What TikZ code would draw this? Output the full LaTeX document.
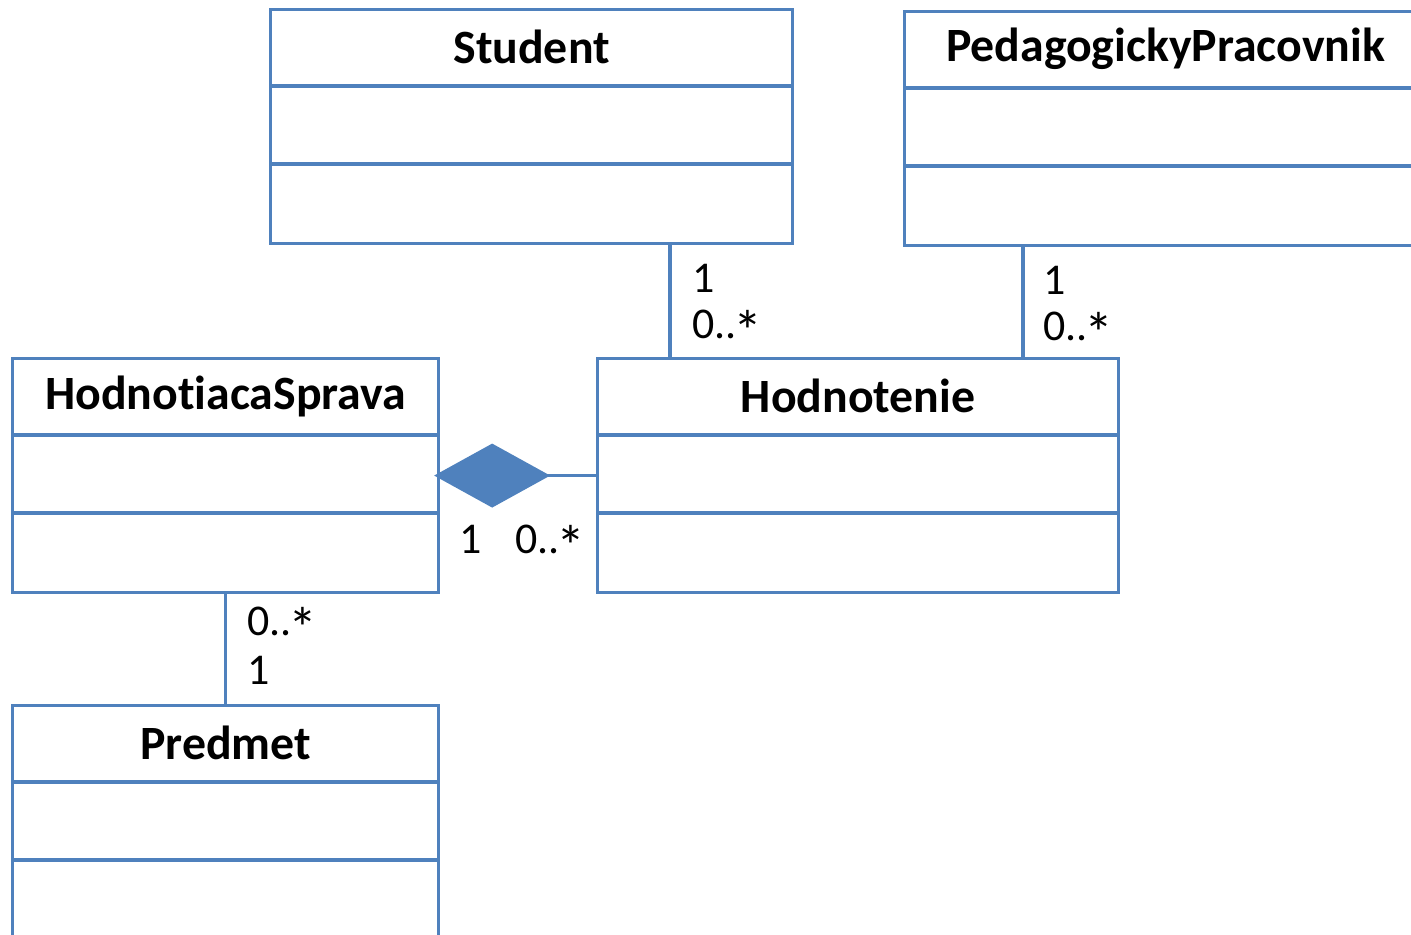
\documentclass[tikz,border=0pt]{standalone}
\usepackage{fontspec}
\setmainfont{Carlito}[Ligatures={NoCommon}]
\usetikzlibrary{arrows.meta,calc,positioning}
\definecolor{umlblue}{HTML}{4F81BD}

% class box: name, north west corner, width, title
\newcommand{\umlclass}[4]{%
  \node[cls=#3] (#1) at (#2) {};
  \node[clstitle] (#1-title) at ($(#1.north)+(0,-0.39)$) {#4};
  \draw[clsline] ($(#1.north west)+(0,-0.78)$) -- ($(#1.north east)+(0,-0.78)$);
  \draw[clsline] ($(#1.north west)+(0,-1.56)$) -- ($(#1.north east)+(0,-1.56)$);
}
% bigger star for multiplicities
\newcommand{\many}{0..\kern-0.08em\raisebox{-0.6ex}{\scalebox{1.32}{*}}}

\begin{document}
\begin{tikzpicture}[line width=0.9pt,
  cls/.style={draw=umlblue,minimum width=#1,minimum height=2.34cm,inner sep=0pt,anchor=north west},
  clsline/.style={draw=umlblue},
  clstitle/.style={font=\fontsize{13.6}{16}\selectfont\bfseries,inner sep=0pt},
  assoc/.style={draw=umlblue},
  comp/.style={draw=umlblue,shorten <=-0.06cm,{Diamond[length=1.16cm,width=0.64cm,fill=umlblue]}-},
  mult/.style={font=\fontsize{12.5}{15}\selectfont,inner sep=0pt,text height=7.9pt,text depth=0pt,anchor=west}]

\useasboundingbox (0,0) rectangle (14.11,-9.35);
\clip (0,0) rectangle (14.11,-9.35);

\umlclass{student}{2.69,-0.08}{5.22cm}{Student}
\umlclass{pedagog}{9.03,-0.10}{5.22cm}{PedagogickyPracovnik}
\umlclass{sprava}{0.11,-3.57}{4.26cm}{HodnotiacaSprava}
\umlclass{hodnotenie}{5.96,-3.57}{5.21cm}{Hodnotenie}
\umlclass{predmet}{0.11,-7.04}{4.26cm}{Predmet}

% associations
\coordinate (s1) at ($(hodnotenie.north west)+(0.74,0)$);
\coordinate (p1) at ($(hodnotenie.north west)+(4.27,0)$);
\path[assoc] (s1) edge (s1 |- student.south)
             (p1) edge (p1 |- pedagog.south)
             (sprava.south) edge (predmet.north);
\draw[comp] (sprava.east) -- (hodnotenie.west);

% multiplicities
\node[mult] (m1) at (6.91,-2.79) {1};
\node[mult] (m2) at (6.91,-3.25) {\many};
\node[mult] (m3) at (10.42,-2.81) {1};
\node[mult] (m4) at (10.42,-3.27) {\many};
\node[mult] (m5) at (4.58,-5.40) {1};
\node[mult] (m6) at (5.14,-5.40) {\many};
\node[mult] (m7) at (2.46,-6.22) {\many};
\node[mult] (m8) at (2.46,-6.71) {1};

\end{tikzpicture}
\end{document}
